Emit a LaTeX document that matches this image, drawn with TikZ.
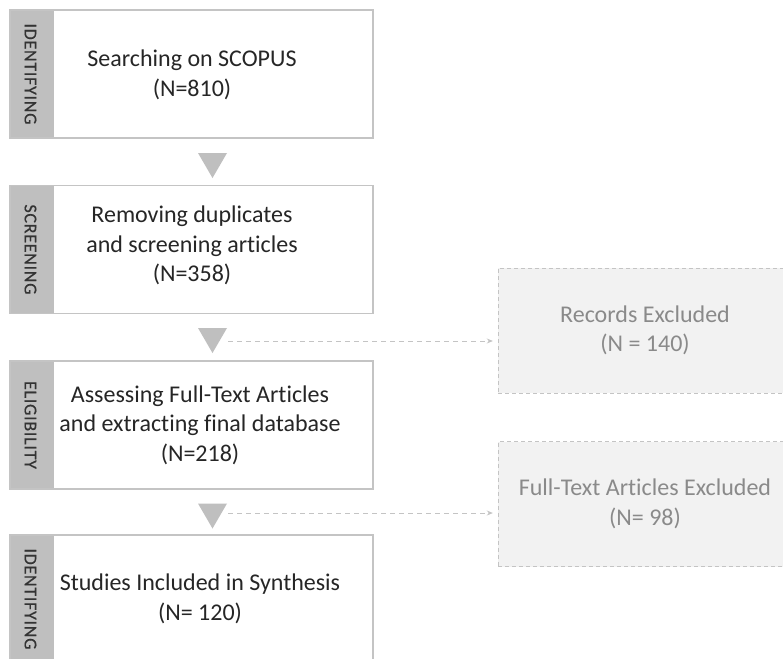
\documentclass[tikz,border=0pt]{standalone}
\usepackage{fontspec}
\setmainfont[Ligatures=NoCommon]{Carlito}
\newfontfamily\stagefont[LetterSpace=4,FakeBold=0.4]{Carlito}
\usetikzlibrary{arrows.meta}
\definecolor{stripgray}{HTML}{BFBFBF}
\definecolor{boxline}{HTML}{C4C4C4}
\definecolor{exclfill}{HTML}{F2F2F2}
\definecolor{excltext}{HTML}{8A8A8A}
\definecolor{maintext}{HTML}{262626}

\begin{document}
\begin{tikzpicture}[x=1pt,y=-1pt,
    stagebox/.style={draw=boxline, line width=1.1pt, fill=white, minimum width=363pt, minimum height=128pt, inner sep=0pt,
        path picture={\fill[stripgray] (path picture bounding box.north west) rectangle ([xshift=44pt]path picture bounding box.south west);}},
    stagelabel/.style={rotate=-90, text=black!80, font=\stagefont\fontsize{18}{20}\selectfont},
    steptext/.style={align=center, text=maintext, font=\fontsize{24}{29.5}\selectfont},
    exclbox/.style={draw=boxline, dashed, dash pattern=on 4pt off 3pt, fill=exclfill, minimum width=294pt, minimum height=125pt,
        align=center, text=excltext, font=\fontsize{24}{29.5}\selectfont},
    connector/.style={draw=boxline, line width=0.9pt, dash pattern=on 5pt off 4pt, -{Stealth[length=6pt,width=5pt]}}]
    \clip (0,0) rectangle (783,658);
    \fill[white] (0,0) rectangle (783,658);

    % stages
    \node[stagebox] (box1) at (191.5,74) {};
    \node[stagebox] (box2) at (191.5,249.5) {};
    \node[stagebox] (box3) at (191.5,425) {};
    \node[stagebox] (box4) at (191.5,599) {};
    \node[stagelabel] (lab1) at ([xshift=21pt]box1.west) {IDENTIFYING};
    \node[stagelabel] (lab2) at ([xshift=21pt]box2.west) {SCREENING};
    \node[stagelabel] (lab3) at ([xshift=21pt]box3.west) {ELIGIBILITY};
    \node[stagelabel] (lab4) at ([xshift=21pt]box4.west) {IDENTIFYING};
    \node[steptext] (txt1) at ([xshift=0.5pt,yshift=-1pt]box1.center) {Searching on SCOPUS\\(N=810)};
    \node[steptext] (txt2) at ([xshift=0.5pt,yshift=4pt]box2.center) {Removing duplicates\\and screening articles\\(N=358)};
    \node[steptext] (txt3) at ([xshift=8.5pt]box3.center) {Assessing Full-Text Articles\\and extracting final database\\(N=218)};
    \node[steptext] (txt4) at ([xshift=8.5pt]box4.center) {Studies Included in Synthesis\\(N= 120)};

    % excluded
    \node[exclbox] (excl1) at (645,330.5) {Records Excluded\\(N = 140)};
    \node[exclbox] (excl2) at (645,504) {Full-Text Articles Excluded\\(N= 98)};

    % arrows between stages
    \foreach \ty/\nm in {153/tri1, 328/tri2, 503.5/tri3} {
        \coordinate (\nm) at (212.5,\ty);
        \fill[stripgray] (\nm) ++(-14.5,0) -- ++(29,0) -- ++(-14.5,25) -- cycle;
    }
    \coordinate (out2) at ([xshift=15.5pt,yshift=-13pt]tri2);
    \coordinate (out3) at ([xshift=15.5pt,yshift=-9.5pt]tri3);
    \draw[connector, shorten >=5pt] (out2) -- (out2 -| excl1.west);
    \draw[connector, shorten >=5pt] (out3) -- (out3 -| excl2.west);
\end{tikzpicture}
\end{document}
